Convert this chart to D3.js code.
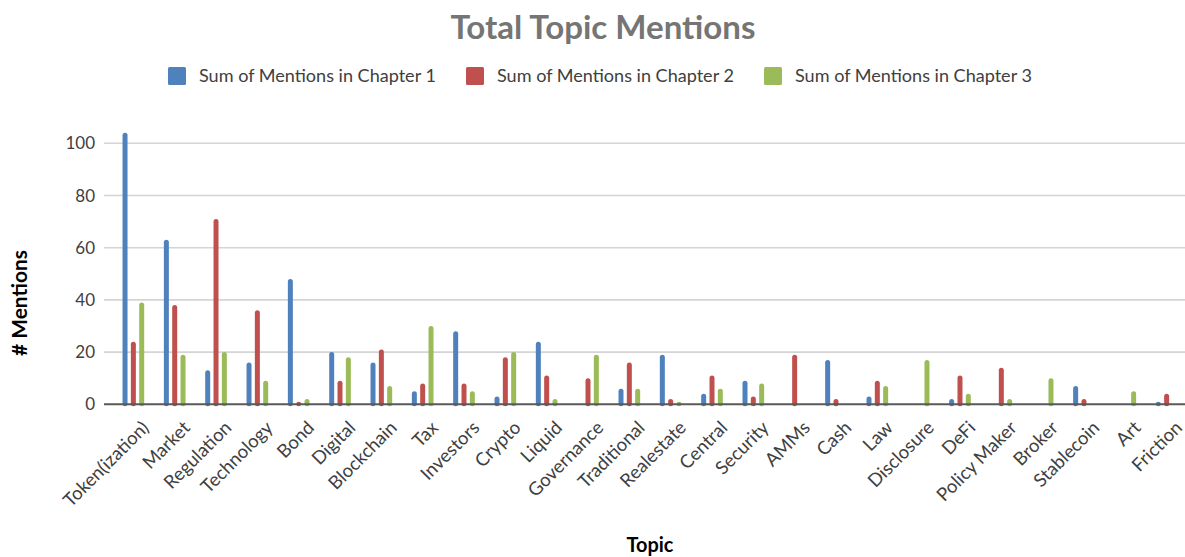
<!DOCTYPE html>
<html>
<head>
<meta charset="utf-8">
<script src="https://cdn.jsdelivr.net/npm/d3@7"></script>
<style>
  html, body { margin: 0; padding: 0; background: #fff; }
  svg { display: block; font-family: Lato, "Open Sans", sans-serif; }
</style>
</head>
<body>
<svg id="chart" width="1185" height="557"></svg>
<script>
const topics = ["Token(ization)", "Market", "Regulation", "Technology", "Bond", "Digital", "Blockchain", "Tax", "Investors", "Crypto", "Liquid", "Governance", "Traditional", "Realestate", "Central", "Security", "AMMs", "Cash", "Law", "Disclosure", "DeFi", "Policy Maker", "Broker", "Stablecoin", "Art", "Friction"];
const chapter1 = [104, 63, 13, 16, 48, 20, 16, 5, 28, 3, 24, 0, 6, 19, 4, 9, 0, 17, 3, 0, 2, 0, 0, 7, 0, 1];
const chapter2 = [24, 38, 71, 36, 1, 9, 21, 8, 8, 18, 11, 10, 16, 2, 11, 3, 19, 2, 9, 0, 11, 14, 0, 2, 0, 4];
const chapter3 = [39, 19, 20, 9, 2, 18, 7, 30, 5, 20, 2, 19, 6, 1, 6, 8, 0, 0, 7, 17, 4, 2, 10, 0, 5, 0];
const seriesNames = ["Sum of Mentions in Chapter 1", "Sum of Mentions in Chapter 2", "Sum of Mentions in Chapter 3"];
const seriesColors = ["#4F81BD", "#C0504D", "#9BBB59"];
const yTicks = [0, 20, 40, 60, 80, 100];

const seriesValues = [chapter1, chapter2, chapter3];
const svg = d3.select("#chart");

const x = d3.scaleBand().domain(topics).range([112.7, 1187.3]).padding(0);
const x1 = d3.scalePoint().domain(seriesNames).range([-8.33, 8.33]);
const y = d3.scaleLinear().domain([0, 100]).range([404.3, 143.3]);
const barW = 5;

function fit(sel, base, target) {
  const w = sel.node().getComputedTextLength();
  sel.attr("font-size", base * target / w);
}

// gridlines
svg.append("g").selectAll("line").data(yTicks.filter(d => d > 0)).join("line")
  .attr("x1", 104).attr("x2", 1185)
  .attr("y1", d => y(d)).attr("y2", d => y(d))
  .attr("stroke", "#d4d4d4").attr("stroke-width", 1.6);

// y tick labels
svg.append("g").selectAll("text").data(yTicks).join("text")
  .attr("x", 95).attr("y", d => y(d))
  .attr("dy", "0.36em")
  .attr("text-anchor", "end")
  .attr("font-size", 17)
  .attr("fill", "#404040")
  .text(d => d);

// bars
const flat = [];
topics.forEach((t, i) => seriesNames.forEach((s, j) => flat.push({ topic: t, series: s, value: seriesValues[j][i], color: seriesColors[j] })));
svg.append("g").selectAll("rect").data(flat.filter(d => d.value > 0)).join("rect")
  .attr("x", d => x(d.topic) + x.bandwidth() / 2 + x1(d.series) - barW / 2)
  .attr("y", d => y(d.value))
  .attr("width", barW)
  .attr("height", d => y(0) - y(d.value) + 2)
  .attr("rx", 2.5)
  .attr("fill", d => d.color);

// x axis line
svg.append("line")
  .attr("x1", 104).attr("x2", 1185)
  .attr("y1", y(0)).attr("y2", y(0))
  .attr("stroke", "#595959").attr("stroke-width", 2);

// x tick labels
svg.append("g").selectAll("text").data(topics).join("text")
  .attr("transform", d => `translate(${x(d) + x.bandwidth() / 2 + 12},${y(0) + 20}) rotate(-45)`)
  .attr("text-anchor", "end")
  .attr("dy", "0.35em")
  .attr("font-size", 18.5)
  .attr("fill", "#404040")
  .text(d => d);

// title
const title = svg.append("text")
  .attr("x", 603).attr("y", 38.5)
  .attr("text-anchor", "middle")
  .attr("font-size", 30)
  .attr("font-weight", "bold")
  .attr("fill", "#757575")
  .text("Total Topic Mentions");
fit(title, 30, 305);

// legend
const legendX = [168, 466, 764];
const leg = svg.append("g").selectAll("g").data(seriesNames).join("g")
  .attr("transform", (d, i) => `translate(${legendX[i]},0)`);
leg.append("rect")
  .attr("x", 0).attr("y", 67).attr("width", 18).attr("height", 18).attr("rx", 1.5)
  .attr("fill", (d, i) => seriesColors[i]);
const legText = leg.append("text")
  .attr("x", 31).attr("y", 76).attr("dy", "0.35em")
  .attr("font-size", 16)
  .attr("fill", "#404040")
  .text(d => d);
fit(legText, 16, 237);

// axis titles
const yTitle = svg.append("text")
  .attr("transform", "translate(27,303) rotate(-90)")
  .attr("text-anchor", "middle")
  .attr("font-size", 20)
  .attr("font-weight", "bold")
  .attr("fill", "#000")
  .text("# Mentions");
fit(yTitle, 20, 106);
const xTitle = svg.append("text")
  .attr("x", 650).attr("y", 552)
  .attr("text-anchor", "middle")
  .attr("font-size", 20)
  .attr("font-weight", "bold")
  .attr("fill", "#000")
  .text("Topic");
fit(xTitle, 20, 47);
</script>
</body>
</html>
